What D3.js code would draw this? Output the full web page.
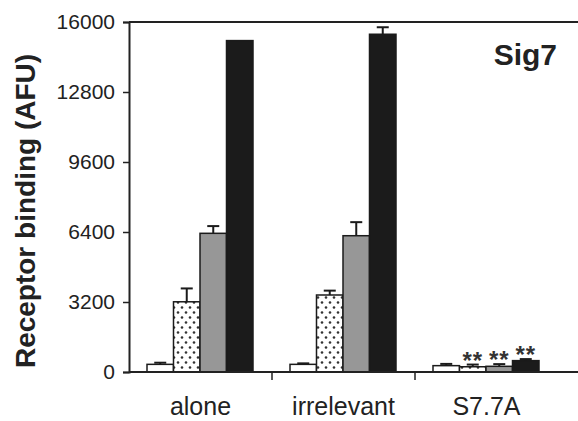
<!DOCTYPE html>
<html>
<head>
<meta charset="utf-8">
<script src="https://cdn.jsdelivr.net/npm/d3@7"></script>
<style>
  body { margin: 0; background: #fff; }
  svg { display: block; font-family: "Liberation Sans", Arial, sans-serif; }
</style>
</head>
<body>
<div id="chart"></div>
<script>
// Chart data
const categories = ["alone", "irrelevant", "S7.7A"];
const seriesKeys = ["open", "dotted", "gray", "black"];

const openValues   = [350, 350, 290];
const dottedValues = [3210, 3520, 240];
const grayValues   = [6340, 6230, 260];
const blackValues  = [15150, 15440, 520];

const openErrors   = [75, 45, 80];
const dottedErrors = [610, 200, 100];
const grayErrors   = [330, 620, 100];
const blackErrors  = [0, 320, 70];

const openStars   = ["", "", ""];
const dottedStars = ["", "", "**"];
const grayStars   = ["", "", "**"];
const blackStars  = ["", "", "**"];

const yTicks = [0, 3200, 6400, 9600, 12800, 16000];

const width = 578;
const height = 421;
const margin = { top: 22, right: 0, bottom: 49, left: 129 };

// Build rows for drawing
const valuesBySeries = { open: openValues, dotted: dottedValues, gray: grayValues, black: blackValues };
const errorsBySeries = { open: openErrors, dotted: dottedErrors, gray: grayErrors, black: blackErrors };
const starsBySeries = { open: openStars, dotted: dottedStars, gray: grayStars, black: blackStars };

const bars = [];
categories.forEach((c, i) => {
    seriesKeys.forEach(k => {
        bars.push({ cat: c, key: k, value: valuesBySeries[k][i], err: errorsBySeries[k][i], stars: starsBySeries[k][i] });
    });
});

const svg = d3.select("#chart")
    .append("svg")
    .attr("width", width)
    .attr("height", height);

// Dot pattern for the second series
const defs = svg.append("defs");
const pat = defs.append("pattern")
    .attr("id", "dots")
    .attr("patternUnits", "userSpaceOnUse")
    .attr("width", 8)
    .attr("height", 10);
pat.append("rect").attr("width", 8).attr("height", 10).attr("fill", "#fff");
pat.append("circle").attr("cx", 2).attr("cy", 2.5).attr("r", 1.3).attr("fill", "#333");
pat.append("circle").attr("cx", 6).attr("cy", 7.5).attr("r", 1.3).attr("fill", "#333");

const fills = { open: "#fff", dotted: "url(#dots)", gray: "#979797", black: "#1b1b1b" };

// Scales
const x0 = d3.scaleBand()
    .domain(categories)
    .range([margin.left, 558])
    .padding(0);

const x1 = d3.scaleBand()
    .domain(seriesKeys)
    .range([18, x0.bandwidth() - 19])
    .padding(0);

const y = d3.scaleLinear()
    .domain([0, 16000])
    .range([height - margin.bottom, margin.top]);

// Top frame line
svg.append("line")
    .attr("x1", margin.left).attr("x2", width)
    .attr("y1", y(16000)).attr("y2", y(16000))
    .attr("stroke", "#222").attr("stroke-width", 2);

// Bars
const g = svg.append("g");
g.selectAll("rect.bar")
    .data(bars)
    .enter()
    .append("rect")
    .attr("class", "bar")
    .attr("x", d => x0(d.cat) + x1(d.key))
    .attr("y", d => y(d.value))
    .attr("width", x1.bandwidth())
    .attr("height", d => y(0) - y(d.value))
    .attr("fill", d => fills[d.key])
    .attr("stroke", "#1b1b1b")
    .attr("stroke-width", 1.5);

// Error bars (upper only)
const errBars = bars.filter(d => d.err > 0);
g.selectAll("line.err")
    .data(errBars)
    .enter()
    .append("line")
    .attr("class", "err")
    .attr("x1", d => x0(d.cat) + x1(d.key) + x1.bandwidth() / 2)
    .attr("x2", d => x0(d.cat) + x1(d.key) + x1.bandwidth() / 2)
    .attr("y1", d => y(d.value))
    .attr("y2", d => y(d.value + d.err))
    .attr("stroke", "#1b1b1b")
    .attr("stroke-width", 2);

g.selectAll("line.cap")
    .data(errBars)
    .enter()
    .append("line")
    .attr("class", "cap")
    .attr("x1", d => x0(d.cat) + x1(d.key) + x1.bandwidth() / 2 - 6)
    .attr("x2", d => x0(d.cat) + x1(d.key) + x1.bandwidth() / 2 + 6)
    .attr("y1", d => y(d.value + d.err))
    .attr("y2", d => y(d.value + d.err))
    .attr("stroke", "#1b1b1b")
    .attr("stroke-width", 2);

// Significance stars
g.selectAll("text.star")
    .data(bars.filter(d => d.stars))
    .enter()
    .append("text")
    .attr("class", "star")
    .attr("x", d => x0(d.cat) + x1(d.key) + x1.bandwidth() / 2)
    .attr("y", d => y(d.value + d.err) + 4)
    .attr("text-anchor", "middle")
    .attr("font-size", 24)
    .attr("font-weight", "bold")
    .attr("letter-spacing", 1)
    .attr("fill", "#333")
    .text(d => d.stars);

// Y axis
const yAxis = svg.append("g")
    .attr("transform", `translate(${margin.left},0)`)
    .call(d3.axisLeft(y).tickValues(yTicks).tickSize(6).tickPadding(8).tickFormat(d3.format("d")));
yAxis.select(".domain").attr("stroke", "#222").attr("stroke-width", 2);
yAxis.selectAll(".tick line").attr("stroke", "#222").attr("stroke-width", 1.5);
yAxis.selectAll(".tick text")
    .attr("font-size", 21)
    .attr("font-family", "Liberation Sans, Arial, sans-serif")
    .attr("fill", "#222");

// X axis: baseline, ticks between categories, labels
svg.append("line")
    .attr("x1", margin.left).attr("x2", width)
    .attr("y1", y(0)).attr("y2", y(0))
    .attr("stroke", "#222").attr("stroke-width", 2);

svg.selectAll("line.xtick")
    .data(categories.slice(1))
    .enter()
    .append("line")
    .attr("class", "xtick")
    .attr("x1", d => x0(d)).attr("x2", d => x0(d))
    .attr("y1", y(0)).attr("y2", y(0) + 8)
    .attr("stroke", "#222").attr("stroke-width", 1.5);

svg.selectAll("text.xlabel")
    .data(categories)
    .enter()
    .append("text")
    .attr("class", "xlabel")
    .attr("x", d => x0(d) + x0.bandwidth() / 2)
    .attr("y", 415)
    .attr("text-anchor", "middle")
    .attr("font-size", 25)
    .attr("fill", "#222")
    .text(d => d);

// Y title
svg.append("text")
    .attr("transform", "translate(35,211) rotate(-90)")
    .attr("text-anchor", "middle")
    .attr("font-size", 28)
    .attr("font-weight", "bold")
    .attr("fill", "#222")
    .text("Receptor binding (AFU)");

// Panel label
svg.append("text")
    .attr("x", 557)
    .attr("y", 65)
    .attr("text-anchor", "end")
    .attr("font-size", 30)
    .attr("font-weight", "bold")
    .attr("fill", "#222")
    .text("Sig7");
</script>
</body>
</html>
